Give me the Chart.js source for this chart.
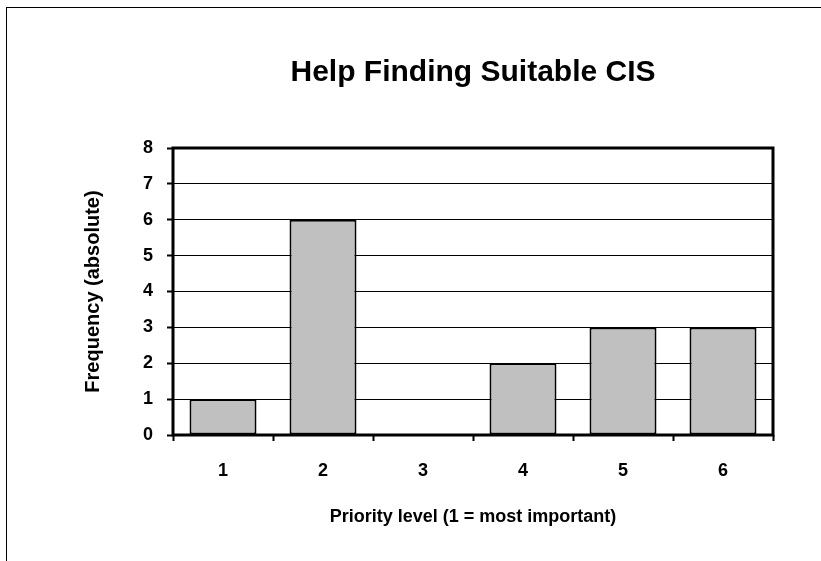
<!DOCTYPE html>
<html>
<head>
<meta charset="utf-8">
<script src="https://cdn.jsdelivr.net/npm/chart.js@4.4.1/dist/chart.umd.min.js"></script>
<style>
  html, body { margin: 0; padding: 0; background: #fff; }
  #wrap { position: relative; width: 821px; height: 561px; }
  #frame { position: absolute; left: 6px; top: 7px; right: -5px; bottom: -5px;
           border-left: 1px solid #000; border-top: 1px solid #000; }
  canvas { position: absolute; left: 0; top: 0; }
</style>
</head>
<body>
<div id="wrap">
  <div id="frame"></div>
  <canvas id="priorityChart" width="821" height="561"></canvas>
</div>
<script>
const categories = ['1', '2', '3', '4', '5', '6'];
const frequencies = [1, 6, 0, 2, 3, 3];
const yMin = 0;
const yMax = 8;
const yStep = 1;

// thick frame round the plot area, title centred over the plot
const plotBorder = {
    id: 'plotBorder',
    afterLayout(chart) {
        if (chart.titleBlock) {
            chart.titleBlock.left = chart.chartArea.left;
            chart.titleBlock.right = chart.chartArea.right;
        }
    },
    afterDraw(chart) {
        const {ctx, chartArea: a} = chart;
        ctx.save();
        ctx.strokeStyle = '#000';
        ctx.lineWidth = 3;
        ctx.strokeRect(a.left, a.top, a.right - a.left, a.bottom - a.top);
        ctx.restore();
    }
};

const renderPriorityChart = () => {
    var ctx = document.getElementById('priorityChart').getContext('2d');
    Chart.defaults.font.family = '"Liberation Sans", Arial, sans-serif';
    Chart.defaults.color = '#000';
    var priorityChart = new Chart(ctx, {
        type: 'bar',
        data: {
            labels: categories,
            datasets: [{
                label: 'Frequency',
                data: frequencies,
                backgroundColor: '#c0c0c0',
                borderColor: '#000',
                borderWidth: 2,
                borderSkipped: false,
                barPercentage: 0.67,
                categoryPercentage: 1.0,
            }],
        },
        options: {
            responsive: false,
            animation: false,
            layout: {
                padding: {left: 0, right: 48, top: 0, bottom: 0}
            },
            plugins: {
                legend: {display: false},
                tooltip: {enabled: false},
                title: {
                    display: true,
                    text: 'Help Finding Suitable CIS',
                    color: '#000',
                    font: {size: 30, weight: 'bold'},
                    padding: {top: 55, bottom: 57},
                },
            },
            scales: {
                x: {
                    afterFit: (scale) => { scale.height = 126; },
                    grid: {
                        offset: true,
                        drawOnChartArea: false,
                        drawTicks: true,
                        tickLength: 6,
                        tickWidth: 2,
                        color: '#000',
                    },
                    border: {display: false},
                    ticks: {
                        padding: 19,
                        font: {size: 18, weight: 'bold'},
                        color: '#000',
                    },
                    title: {
                        display: true,
                        text: 'Priority level (1 = most important)',
                        font: {size: 18, weight: 'bold'},
                        color: '#000',
                        padding: {top: 0, bottom: 33},
                    },
                },
                y: {
                    min: yMin,
                    max: yMax,
                    afterFit: (scale) => { scale.width = 173; },
                    grid: {
                        color: '#000',
                        lineWidth: 1,
                        tickLength: 6,
                        tickWidth: 2,
                    },
                    border: {display: false},
                    ticks: {
                        stepSize: yStep,
                        padding: 14,
                        font: {size: 18, weight: 'bold'},
                        color: '#000',
                    },
                    title: {
                        display: true,
                        text: 'Frequency (absolute)',
                        font: {size: 20, weight: 'bold'},
                        color: '#000',
                        padding: {top: 81, bottom: 0},
                    },
                },
            },
        },
        plugins: [plotBorder],
    });
};

window.addEventListener('load', renderPriorityChart);
</script>
</body>
</html>
